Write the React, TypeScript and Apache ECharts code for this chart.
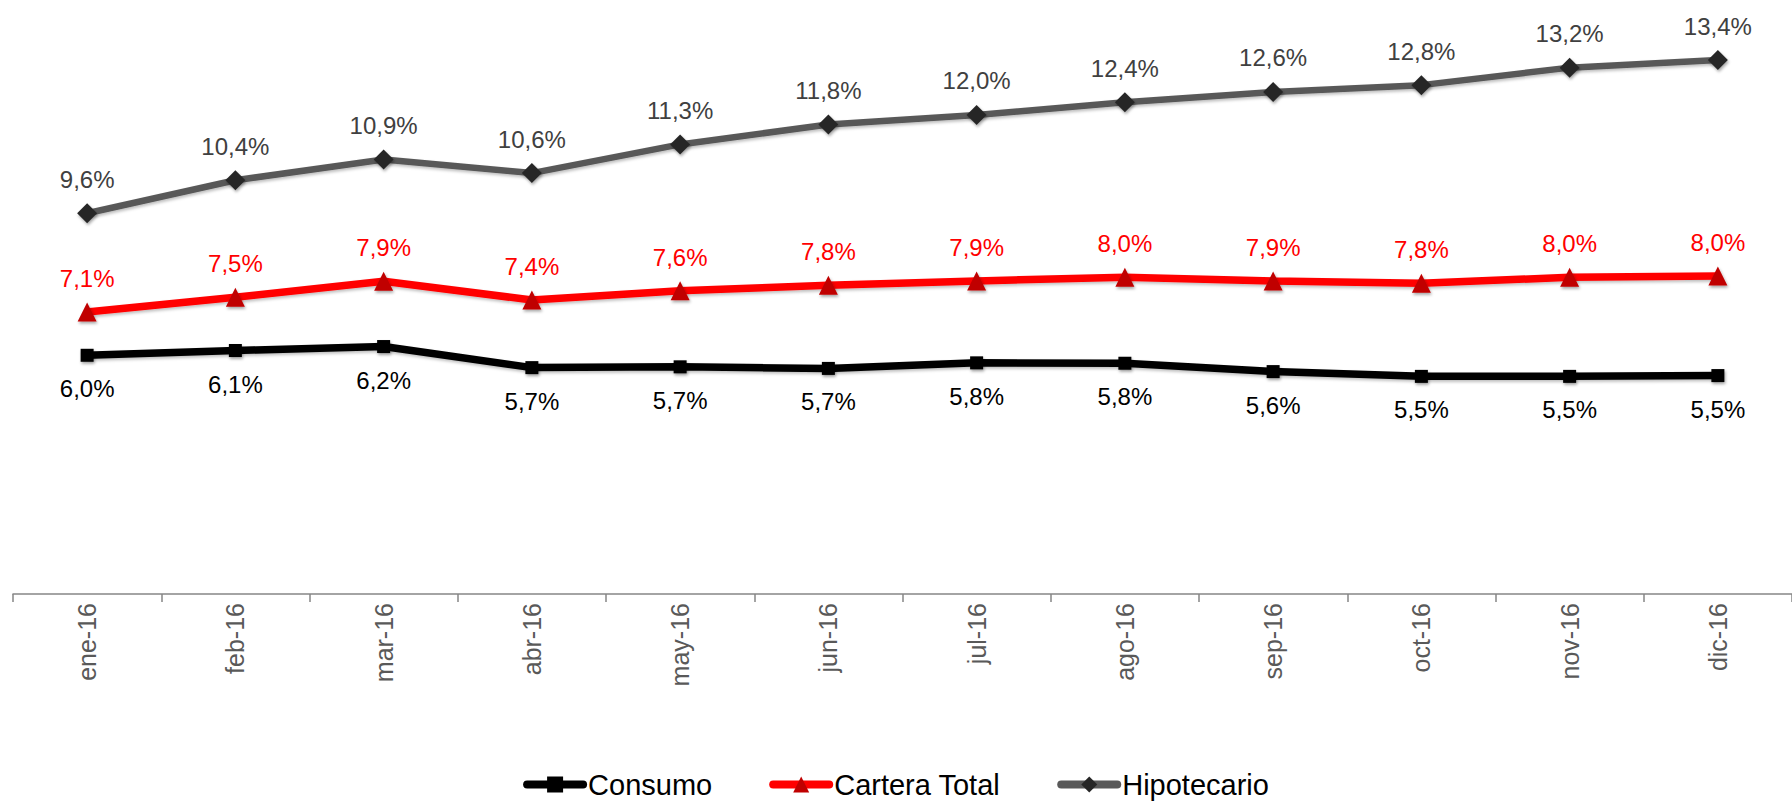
import React, { useEffect, useRef } from "react";
import * as echarts from "echarts";

const categories = ["ene-16", "feb-16", "mar-16", "abr-16", "may-16", "jun-16", "jul-16", "ago-16", "sep-16", "oct-16", "nov-16", "dic-16"];
const consumo = [6.0, 6.12, 6.22, 5.69, 5.71, 5.67, 5.81, 5.8, 5.59, 5.47, 5.47, 5.49];
const carteraTotal = [7.09, 7.46, 7.86, 7.39, 7.62, 7.76, 7.87, 7.96, 7.87, 7.81, 7.96, 7.99];
const hipotecario = [9.57, 10.4, 10.92, 10.58, 11.3, 11.8, 12.04, 12.36, 12.62, 12.79, 13.23, 13.42];

const FONT = "'Liberation Sans', Arial, Helvetica, sans-serif";
const fmt = (p: any) => Number(p.value).toFixed(1).replace(".", ",") + "%";

export default function App() {
  const ref = useRef<HTMLDivElement>(null);
  useEffect(() => {
    if (!ref.current) return;
    const chart = echarts.init(ref.current, undefined, { renderer: "svg" });
    const shadow = { shadowColor: "rgba(0,0,0,0.35)", shadowBlur: 3, shadowOffsetX: 1, shadowOffsetY: 2 };
    const lineShadow = { shadowColor: "rgba(0,0,0,0.25)", shadowBlur: 3, shadowOffsetX: 1, shadowOffsetY: 2 };
    chart.setOption({
      animation: false,
      backgroundColor: "#ffffff",
      textStyle: { fontFamily: FONT },
      grid: { left: 13, top: 37, width: 1792, height: 557, containLabel: false },
      legend: {
        bottom: 2,
        left: "center",
        itemWidth: 56,
        itemHeight: 20,
        itemGap: 57,
        lineStyle: { width: 8, cap: "round" },
        textStyle: { fontSize: 29, color: "#000000", fontFamily: FONT },
        data: ["Consumo", "Cartera Total", "Hipotecario"],
      },
      xAxis: {
        type: "category",
        data: categories,
        boundaryGap: true,
        axisLine: { show: true, lineStyle: { color: "#868686", width: 1.5 } },
        axisTick: { show: true, length: 8, lineStyle: { color: "#868686", width: 1.5 } },
        axisLabel: { rotate: 90, color: "#595959", fontSize: 25, margin: 9, fontFamily: FONT },
        splitLine: { show: false },
      },
      yAxis: {
        type: "value",
        min: 0,
        max: 14,
        show: false,
        splitLine: { show: false },
      },
      series: [
        {
          name: "Consumo",
          type: "line",
          data: consumo,
          symbol: "rect",
          symbolSize: 13,
          lineStyle: { color: "#000000", width: 7.5, ...lineShadow },
          itemStyle: { color: "#000000", ...shadow },
          label: { show: true, position: "bottom", distance: 15, formatter: fmt, color: "#000000", fontSize: 24, fontFamily: FONT },
        },
        {
          name: "Cartera Total",
          type: "line",
          data: carteraTotal,
          symbol: "triangle",
          symbolSize: 19,
          lineStyle: { color: "#FF0000", width: 7.5, ...lineShadow },
          itemStyle: { color: "#C00000", ...shadow },
          label: { show: true, position: "top", distance: 12, formatter: fmt, color: "#FF0000", fontSize: 24, fontFamily: FONT },
        },
        {
          name: "Hipotecario",
          type: "line",
          data: hipotecario,
          symbol: "diamond",
          symbolSize: 20,
          lineStyle: { color: "#595959", width: 6.5, ...lineShadow },
          itemStyle: { color: "#262626", ...shadow },
          label: { show: true, position: "top", distance: 12, formatter: fmt, color: "#404040", fontSize: 24, fontFamily: FONT },
        },
      ],
    });
    return () => chart.dispose();
  }, []);
  return <div ref={ref} style={{ position: "absolute", left: 0, top: 0, width: 1792, height: 806 }} />;
}
